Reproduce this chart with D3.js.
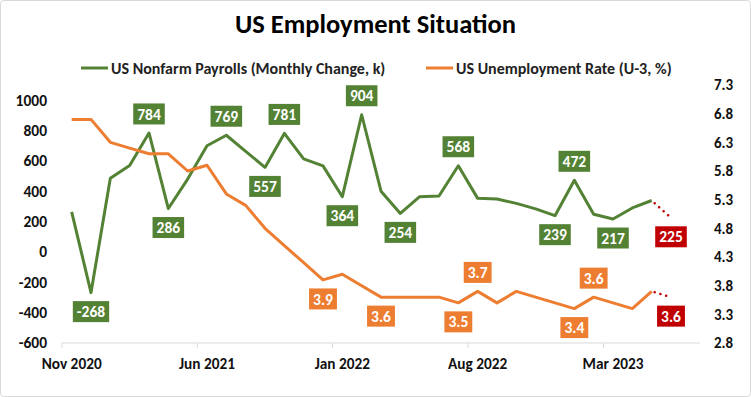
<!DOCTYPE html>
<html>
<head>
<meta charset="utf-8">
<script src="https://cdn.jsdelivr.net/npm/d3@7"></script>
<style>
  body { margin: 0; background: #fff; }
  svg { font-family: Carlito, Calibri, Lato, sans-serif; }
</style>
</head>
<body>
<svg id="chart"></svg>
<script>
// months on the category axis (last one is left empty)
const months = ['Nov 2020','Dec 2020','Jan 2021','Feb 2021','Mar 2021','Apr 2021','May 2021','Jun 2021',
  'Jul 2021','Aug 2021','Sep 2021','Oct 2021','Nov 2021','Dec 2021','Jan 2022','Feb 2022','Mar 2022',
  'Apr 2022','May 2022','Jun 2022','Jul 2022','Aug 2022','Sep 2022','Oct 2022','Nov 2022','Dec 2022',
  'Jan 2023','Feb 2023','Mar 2023','Apr 2023','May 2023','Jun 2023','Jul 2023'];
const axisLabels = ['Nov 2020','Jun 2021','Jan 2022','Aug 2022','Mar 2023'];

// US nonfarm payrolls, monthly change (k), Nov 2020 - May 2023
const payrolls = [264,-268,485,569,784,286,480,700,769,663,557,781,613,567,364,904,400,254,364,369,
  568,353,349,320,284,239,472,248,217,290,339];
// US unemployment rate U-3 (%)
const unemployment = [6.7,6.7,6.3,6.2,6.1,6.1,5.8,5.9,5.4,5.2,4.8,4.5,4.2,3.9,4.0,3.8,3.6,3.6,3.6,3.6,
  3.5,3.7,3.5,3.7,3.6,3.5,3.4,3.6,3.5,3.4,3.7];
// Jun 2023 expectations
const payrollsForecast = 225;
const unemploymentForecast = 3.6;

// which points carry a value label
const payrollLabelIdx = [1,4,5,8,10,11,14,15,17,20,25,26,28];
const unempLabelIdx = [13,16,20,21,26,27];

const leftTicks = [-600,-400,-200,0,200,400,600,800,1000];
const rightTicks = [2.8,3.3,3.8,4.3,4.8,5.3,5.8,6.3,6.8,7.3];

const width = 751, height = 397;
const green = '#548235', orange = '#ED7D31', red = '#C00000';

const svg = d3.select('#chart').attr('width', width).attr('height', height);

svg.append('rect')
  .attr('x', 0.5).attr('y', 0.5).attr('width', width - 1).attr('height', height - 1)
  .attr('rx', 3).attr('fill', '#fff').attr('stroke', '#d9d9d9');

const x = d3.scaleBand().domain(months).range([62, 700]).padding(0);
const cx = i => x(months[i]) + x.bandwidth() / 2;
const yL = d3.scaleLinear().domain([-600, 1100]).range([343, 85]);
const yR = d3.scaleLinear().domain([2.8, 7.3]).range([343, 85]);

// title
svg.append('text')
  .attr('x', width / 2).attr('y', 33)
  .attr('text-anchor', 'middle')
  .attr('font-size', 26.5).attr('font-weight', 'bold').attr('fill', '#000')
  .text('US Employment Situation');

// legend
const legend = [
  {name: 'US Nonfarm Payrolls (Monthly Change, k)', color: green, x: 81},
  {name: 'US Unemployment Rate (U-3, %)', color: orange, x: 426}
];
const lg = svg.append('g').selectAll('g').data(legend).join('g')
  .attr('transform', d => `translate(${d.x},68)`);
lg.append('line').attr('x1', 0).attr('x2', 27).attr('stroke', d => d.color).attr('stroke-width', 3);
lg.append('text').attr('x', 30).attr('dy', '0.35em')
  .attr('font-size', 16).attr('font-weight', 'bold').attr('fill', '#222')
  .text(d => d.name);

// x axis
const xAxis = svg.append('g');
xAxis.append('line').attr('x1', 62).attr('x2', 700).attr('y1', 343).attr('y2', 343)
  .attr('stroke', '#d9d9d9');
xAxis.selectAll('line.tick').data(d3.range(0, months.length + 1, 7)).join('line')
  .attr('class', 'tick')
  .attr('x1', i => 62 + i * x.bandwidth()).attr('x2', i => 62 + i * x.bandwidth())
  .attr('y1', 343).attr('y2', 348).attr('stroke', '#d9d9d9');
xAxis.selectAll('text').data(axisLabels).join('text')
  .attr('x', d => x(d) + x.bandwidth() / 2).attr('y', 369)
  .attr('text-anchor', 'middle').attr('font-size', 15.3).attr('font-weight', 'bold').attr('fill', '#111')
  .text(d => d);

// left axis
svg.append('g').selectAll('text').data(leftTicks).join('text')
  .attr('x', 47).attr('y', d => yL(d)).attr('dy', '0.35em')
  .attr('text-anchor', 'end').attr('font-size', 15.5).attr('font-weight', 'bold').attr('fill', '#111')
  .text(d => d);

// right axis
svg.append('g').selectAll('text').data(rightTicks).join('text')
  .attr('x', 714).attr('y', d => yR(d)).attr('dy', '0.35em')
  .attr('font-size', 15).attr('font-weight', 'bold').attr('fill', '#111')
  .text(d => d.toFixed(1));

// lines
const lineL = d3.line().x((d, i) => cx(i)).y(d => yL(d));
const lineR = d3.line().x((d, i) => cx(i)).y(d => yR(d));

svg.append('path').datum(payrolls)
  .attr('d', lineL).attr('fill', 'none').attr('stroke', green)
  .attr('stroke-width', 3).attr('stroke-linejoin', 'round');
svg.append('path').datum(unemployment)
  .attr('d', lineR).attr('fill', 'none').attr('stroke', orange)
  .attr('stroke-width', 3).attr('stroke-linejoin', 'round');

// forecast (dotted)
const last = payrolls.length - 1;
const forecasts = [
  {from: [cx(last), yL(payrolls[last])], to: [cx(last + 1), yL(payrollsForecast)]},
  {from: [cx(last), yR(unemployment[last])], to: [cx(last + 1), yR(unemploymentForecast)]}
];
svg.append('g').selectAll('line').data(forecasts).join('line')
  .attr('x1', d => d.from[0] + 3).attr('y1', d => d.from[1] + (d.to[1] - d.from[1]) * 3 / 19)
  .attr('x2', d => d.to[0]).attr('y2', d => d.to[1])
  .attr('stroke', red).attr('stroke-width', 2.6)
  .attr('stroke-linecap', 'round').attr('stroke-dasharray', '0 6');

// data labels
const labels = [];
payrollLabelIdx.forEach(i => labels.push({
  i, text: String(payrolls[i]), y: yL(payrolls[i]), up: payrolls[i] > payrolls[i - 1], fill: green}));
unempLabelIdx.forEach(i => labels.push({
  i, text: unemployment[i].toFixed(1), y: yR(unemployment[i]), up: unemployment[i] > unemployment[i - 1], fill: orange}));
labels.push({i: last + 1, text: String(payrollsForecast), y: yL(payrollsForecast),
  up: payrollsForecast > payrolls[last], fill: red});
labels.push({i: last + 1, text: unemploymentForecast.toFixed(1), y: yR(unemploymentForecast),
  up: unemploymentForecast > unemployment[last], fill: red});

const lab = svg.append('g').selectAll('g').data(labels).join('g')
  .attr('transform', d => `translate(${cx(d.i)},${d.y + (d.up ? -19 : 19)})`);
lab.append('text')
  .attr('text-anchor', 'middle').attr('dy', '0.36em')
  .attr('font-size', 15.5).attr('font-weight', 'bold').attr('fill', '#fff')
  .text(d => d.text);
lab.each(function() {
  const g = d3.select(this);
  const w = g.select('text').node().getComputedTextLength() + 8;
  g.insert('rect', 'text')
    .attr('x', -w / 2).attr('y', -10.5).attr('width', w).attr('height', 21)
    .attr('fill', g.datum().fill);
});
</script>
</body>
</html>
